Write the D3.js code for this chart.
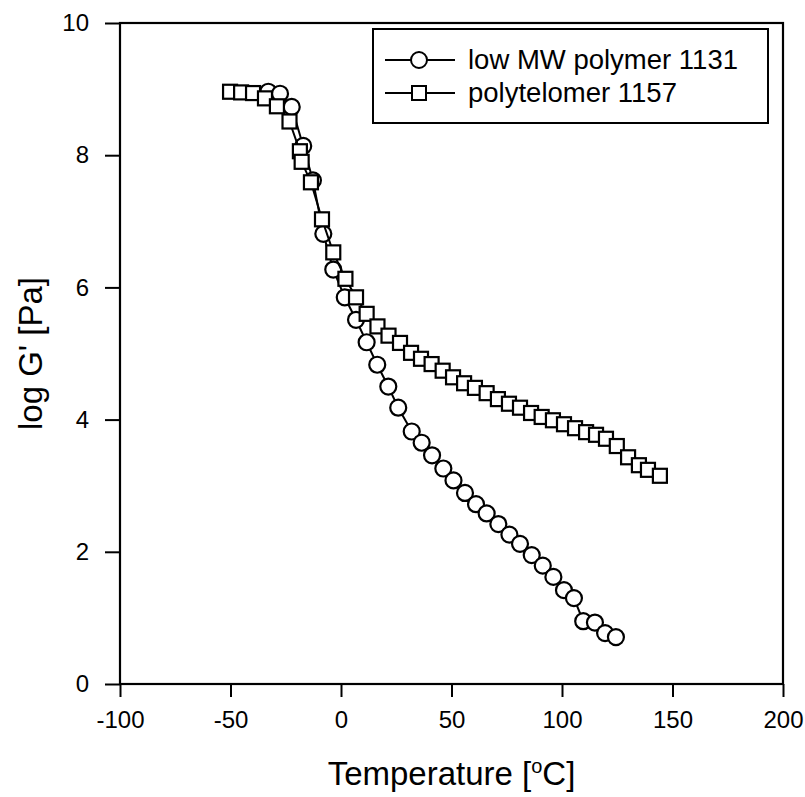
<!DOCTYPE html>
<html>
<head>
<meta charset="utf-8">
<script src="https://cdn.jsdelivr.net/npm/d3@7.9.0/dist/d3.min.js"></script>
<style>
  body { margin: 0; background: #fff; }
  svg { display: block; font-family: 'Liberation Sans', Arial, sans-serif; }
</style>
</head>
<body>
<div id="chart"></div>
<script>
// Series: low MW polymer 1131 (circles)
const tempLowMW = [-32.9, -27.6, -22.3, -17.1, -12.7, -8.0, -3.5, 1.7, 6.8, 11.6, 16.4, 21.4, 25.9,
  32.0, 36.5, 41.2, 46.3, 50.9, 56.1, 61.1, 65.9, 71.2, 76.2, 81.0, 86.3, 91.3, 96.1, 100.9, 105.4,
  109.6, 114.9, 119.5, 124.4];
const logGLowMW = [8.96, 8.93, 8.73, 8.14, 7.62, 6.81, 6.27, 5.85, 5.51, 5.17, 4.83, 4.50, 4.18,
  3.82, 3.65, 3.46, 3.26, 3.08, 2.89, 2.72, 2.58, 2.42, 2.26, 2.12, 1.95, 1.79, 1.62, 1.42, 1.30,
  0.95, 0.93, 0.77, 0.71];

// Series: polytelomer 1157 (squares)
const tempTelomer = [-50.2, -45.2, -39.8, -34.4, -29.0, -23.3, -18.6, -17.8, -13.6, -8.6, -3.5, 2.0, 6.8, 11.6,
  16.5, 21.5, 26.7, 31.7, 36.2, 41.0, 46.0, 50.7, 55.7, 60.6, 65.9, 71.0, 76.0, 81.0, 86.0, 90.8,
  95.9, 100.9, 105.9, 110.9, 115.4, 119.9, 124.8, 129.9, 134.8, 138.9, 144.3];
const logGTelomer = [8.96, 8.95, 8.94, 8.86, 8.74, 8.51, 8.06, 7.90, 7.59, 7.03, 6.53, 6.13, 5.85, 5.60,
  5.41, 5.27, 5.16, 5.01, 4.92, 4.84, 4.74, 4.64, 4.55, 4.48, 4.40, 4.31, 4.24, 4.18, 4.10, 4.04,
  3.99, 3.93, 3.87, 3.81, 3.77, 3.71, 3.60, 3.43, 3.31, 3.24, 3.15];

// Ticks and labels
const xTicks = [-100, -50, 0, 50, 100, 150, 200];
const yTicks = [0, 2, 4, 6, 8, 10];
const seriesNames = ['low MW polymer 1131', 'polytelomer 1157'];

const width = 805;
const height = 797;
const margin = { top: 23, right: 22, bottom: 113, left: 120 };
const plotW = width - margin.left - margin.right;
const plotH = height - margin.top - margin.bottom;

const svg = d3.select('#chart')
  .append('svg')
  .attr('width', width)
  .attr('height', height);

const g = svg.append('g').attr('transform', `translate(${margin.left},${margin.top})`);

const xScale = d3.scaleLinear().domain([-100, 200]).range([0, plotW]);
const yScale = d3.scaleLinear().domain([0, 10]).range([plotH, 0]);

// Frame
g.append('rect')
  .attr('width', plotW)
  .attr('height', plotH)
  .attr('fill', 'none')
  .attr('stroke', '#000')
  .attr('stroke-width', 2.2);

// X axis (plain hyphen for negatives, like the original)
const xAxis = g.append('g')
  .attr('transform', `translate(0,${plotH})`)
  .call(d3.axisBottom(xScale).tickValues(xTicks).tickSize(13).tickPadding(14).tickFormat((d) => String(d)));
xAxis.select('.domain').remove();
xAxis.selectAll('line').attr('stroke-width', 2);
xAxis.selectAll('text').attr('font-size', 24).attr('fill', '#000')
  .attr('font-family', "'Liberation Sans', Arial, sans-serif");

// Y axis
const yAxis = g.append('g')
  .call(d3.axisLeft(yScale).tickValues(yTicks).tickSize(15).tickPadding(16).tickFormat((d) => String(d)));
yAxis.select('.domain').remove();
yAxis.selectAll('line').attr('stroke-width', 2);
yAxis.selectAll('text').attr('font-size', 24).attr('fill', '#000')
  .attr('font-family', "'Liberation Sans', Arial, sans-serif");

// Axis titles
const xTitle = svg.append('text')
  .attr('x', margin.left + plotW / 2)
  .attr('y', 785)
  .attr('text-anchor', 'middle')
  .attr('font-size', 33);
xTitle.append('tspan').text('Temperature [');
xTitle.append('tspan').attr('font-size', 20).attr('dy', -12).text('o');
xTitle.append('tspan').attr('dy', 12).text('C]');

svg.append('text')
  .attr('transform', `translate(42,${margin.top + plotH / 2}) rotate(-90)`)
  .attr('text-anchor', 'middle')
  .attr('font-size', 33)
  .text("log G' [Pa]");

// Lines and markers
const line = d3.line().x((d) => xScale(d[0])).y((d) => yScale(d[1]));
const lowData = d3.zip(tempLowMW, logGLowMW);
const telData = d3.zip(tempTelomer, logGTelomer);

g.append('path')
  .datum(lowData)
  .attr('d', line)
  .attr('fill', 'none')
  .attr('stroke', '#000')
  .attr('stroke-width', 2);

g.append('g')
  .selectAll('circle')
  .data(lowData)
  .join('circle')
  .attr('cx', (d) => xScale(d[0]))
  .attr('cy', (d) => yScale(d[1]))
  .attr('r', 8)
  .attr('fill', '#fff')
  .attr('stroke', '#000')
  .attr('stroke-width', 2.2);

g.append('path')
  .datum(telData)
  .attr('d', line)
  .attr('fill', 'none')
  .attr('stroke', '#000')
  .attr('stroke-width', 2);

const sq = 14;
g.append('g')
  .selectAll('rect')
  .data(telData)
  .join('rect')
  .attr('x', (d) => xScale(d[0]) - sq / 2)
  .attr('y', (d) => yScale(d[1]) - sq / 2)
  .attr('width', sq)
  .attr('height', sq)
  .attr('fill', '#fff')
  .attr('stroke', '#000')
  .attr('stroke-width', 2.2);

// Legend
const legend = svg.append('g').attr('transform', 'translate(373,29)');
legend.append('rect')
  .attr('width', 395)
  .attr('height', 94)
  .attr('fill', '#fff')
  .attr('stroke', '#000')
  .attr('stroke-width', 2);

seriesNames.forEach((name, i) => {
  const row = legend.append('g').attr('transform', `translate(0,${31 + i * 33})`);
  row.append('line')
    .attr('x1', 12).attr('x2', 82)
    .attr('stroke', '#000').attr('stroke-width', 2);
  if (i === 0) {
    row.append('circle').attr('cx', 46).attr('r', 8)
      .attr('fill', '#fff').attr('stroke', '#000').attr('stroke-width', 2);
  } else {
    row.append('rect').attr('x', 46 - sq / 2).attr('y', -sq / 2)
      .attr('width', sq).attr('height', sq)
      .attr('fill', '#fff').attr('stroke', '#000').attr('stroke-width', 2);
  }
  row.append('text')
    .attr('x', 95)
    .attr('y', 9)
    .attr('font-size', 27.5)
    .text(name);
});
</script>
</body>
</html>
